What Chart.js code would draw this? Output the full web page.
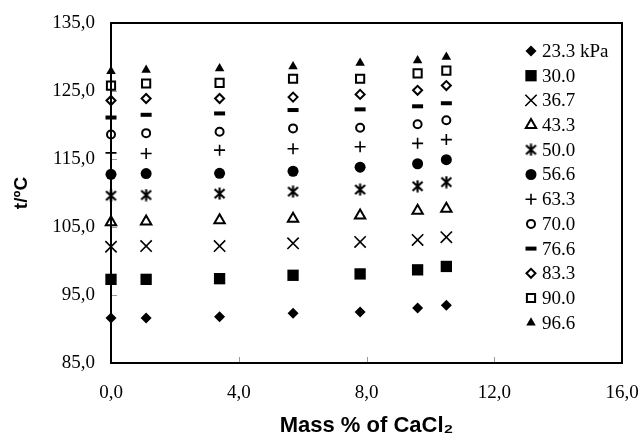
<!DOCTYPE html>
<html>
<head>
<meta charset="utf-8">
<title>Boiling temperature vs mass % CaCl2</title>
<script src="https://cdn.jsdelivr.net/npm/chart.js@4.4.1/dist/chart.umd.min.js"></script>
<style>
  html, body { margin: 0; padding: 0; background: #fff; }
  #wrap { position: relative; width: 641px; height: 439px; }
  #plot-frame { position: absolute; box-sizing: border-box; border: 2px solid #000; pointer-events: none; }
</style>
</head>
<body>
<div id="wrap">
  <canvas id="bp-chart" width="641" height="439"></canvas>
  <div id="plot-frame"></div>
</div>
<script>
// mass % of CaCl2 (same for every pressure series)
const massPct = [0, 1.1, 3.4, 5.7, 7.8, 9.6, 10.5];

// legend labels, one per pressure
const pressureLabels = ['23.3 kPa', '30.0', '36.7', '43.3', '50.0', '56.6', '63.3', '70.0', '76.6', '83.3', '90.0', '96.6'];

// boiling temperatures t/ºC
const t233 = [91.6, 91.6, 91.8, 92.3, 92.5, 93.1, 93.5];
const t300 = [97.3, 97.3, 97.4, 97.9, 98.1, 98.7, 99.2];
const t367 = [102.1, 102.2, 102.2, 102.6, 102.8, 103.1, 103.5];
const t433 = [105.7, 105.8, 106.0, 106.2, 106.7, 107.4, 107.7];
const t500 = [109.6, 109.7, 109.9, 110.2, 110.5, 111.0, 111.6];
const t566 = [112.75, 112.85, 112.9, 113.2, 113.8, 114.3, 114.9];
const t633 = [115.9, 115.8, 116.3, 116.5, 116.8, 117.3, 117.85];
const t700 = [118.6, 118.8, 119.0, 119.5, 119.6, 120.1, 120.7];
const t766 = [121.1, 121.5, 121.7, 122.2, 122.3, 122.75, 123.2];
const t833 = [123.6, 123.9, 123.9, 124.1, 124.5, 125.1, 125.8];
const t900 = [125.8, 126.1, 126.2, 126.8, 126.8, 127.6, 128.0];
const t966 = [127.9, 128.1, 128.3, 128.6, 129.1, 129.5, 130.0];

const seriesValues = [t233, t300, t367, t433, t500, t566, t633, t700, t766, t833, t900, t966];

// the 50.0 kPa marker is a 6 spoke asterisk, chart.js has no such style so make one
function makeAsterisk() {
    const c = document.createElement('canvas');
    c.width = 13; c.height = 13;
    const g = c.getContext('2d');
    g.strokeStyle = '#000';
    g.lineWidth = 2.2;
    g.beginPath();
    g.moveTo(6.5, 0.5); g.lineTo(6.5, 12.5);
    g.moveTo(1.5, 2); g.lineTo(11.5, 11);
    g.moveTo(11.5, 2); g.lineTo(1.5, 11);
    g.stroke();
    return c;
}

// marker look for every series (same order as pressureLabels)
const markerStyles = [
    { pointStyle: 'rectRot', radius: 5.5, fill: '#000', borderWidth: 0 },
    { pointStyle: 'rect', radius: 8, fill: '#000', borderWidth: 0 },
    { pointStyle: 'crossRot', radius: 8, fill: '#000', borderWidth: 1.6 },
    { pointStyle: 'triangle', radius: 6, fill: '#fff', borderWidth: 2 },
    { pointStyle: makeAsterisk(), radius: 6, fill: '#000', borderWidth: 0 },
    { pointStyle: 'circle', radius: 5.5, fill: '#000', borderWidth: 0 },
    { pointStyle: 'cross', radius: 5.5, fill: '#000', borderWidth: 1.6 },
    { pointStyle: 'circle', radius: 4, fill: '#fff', borderWidth: 2 },
    { pointStyle: 'line', radius: 5.5, fill: '#000', borderWidth: 4 },
    { pointStyle: 'rectRot', radius: 4.5, fill: '#fff', borderWidth: 2 },
    { pointStyle: 'rect', radius: 5.8, fill: '#fff', borderWidth: 2 },
    { pointStyle: 'triangle', radius: 5.5, fill: '#000', borderWidth: 0 }
];

const datasets = pressureLabels.map((lab, i) => ({
    label: lab,
    data: massPct.map((x, j) => ({ x: x, y: seriesValues[i][j] })),
    showLine: false,
    pointStyle: markerStyles[i].pointStyle,
    pointRadius: markerStyles[i].radius,
    pointHoverRadius: markerStyles[i].radius,
    pointBackgroundColor: markerStyles[i].fill,
    pointBorderColor: '#000',
    pointBorderWidth: markerStyles[i].borderWidth,
    clip: false
}));

const comma = v => v.toFixed(1).replace('.', ',');

// little grey inner ticks + the legend inside the plot on the right
const overlayPlugin = {
    id: 'overlay',
    afterDraw(chart) {
        const ctx = chart.ctx;
        const xs = chart.scales.x, ys = chart.scales.y;
        const left = xs.getPixelForValue(xs.min);
        const bottom = ys.getPixelForValue(ys.min);
        ctx.save();
        ctx.fillStyle = '#999';
        xs.ticks.forEach(t => {
            if (t.value <= xs.min || t.value >= xs.max) return;
            const px = Math.round(xs.getPixelForValue(t.value));
            ctx.fillRect(px, bottom - 6, 1, 6);
        });
        ys.ticks.forEach(t => {
            if (t.value <= ys.min || t.value >= ys.max) return;
            const py = Math.round(ys.getPixelForValue(t.value));
            ctx.fillRect(left, py, 6, 1);
        });

        // legend
        const x0 = 531, y0 = 51, step = 24.7;
        ctx.font = '19px "Liberation Serif", "Times New Roman", serif';
        ctx.textBaseline = 'middle';
        ctx.textAlign = 'left';
        chart.data.datasets.forEach((ds, i) => {
            const y = y0 + i * step;
            ctx.fillStyle = ds.pointBackgroundColor;
            ctx.strokeStyle = '#000';
            ctx.lineWidth = ds.pointBorderWidth || 1;
            Chart.helpers.drawPoint(ctx, {
                pointStyle: ds.pointStyle,
                radius: ds.pointRadius,
                borderWidth: ds.pointBorderWidth,
                rotation: 0
            }, x0, y);
            ctx.fillStyle = '#000';
            ctx.fillText(ds.label, x0 + 11, y + 1);
        });
        ctx.restore();
    }
};

const tickFont = { family: '"Liberation Serif", "Times New Roman", serif', size: 19 };

const config = {
    type: 'scatter',
    data: { datasets: datasets },
    options: {
        responsive: false,
        animation: false,
        layout: { padding: { left: 0, top: 23, right: 19, bottom: 0 } },
        plugins: {
            legend: { display: false },
            tooltip: { enabled: false }
        },
        scales: {
            x: {
                type: 'linear',
                min: 0, max: 16,
                grid: { display: false, drawTicks: false },
                border: { display: true, color: '#000', width: 2 },
                ticks: { stepSize: 4, padding: 19, color: '#000', font: tickFont, callback: comma, maxRotation: 0 },
                title: {
                    display: true,
                    text: 'Mass % of CaCl₂',
                    color: '#000',
                    font: { family: '"Liberation Sans", Arial, sans-serif', size: 22, weight: 'bold' },
                    padding: { top: 0, bottom: 0 }
                },
                // no extra room for the half labels at the ends, layout padding handles it
                afterFit(s) { s.height = 76; s.paddingLeft = 0; s.paddingRight = 0; }
            },
            y: {
                type: 'linear',
                min: 85, max: 135,
                grid: { display: false, drawTicks: false },
                border: { display: true, color: '#000', width: 2 },
                ticks: { stepSize: 10, padding: 16, color: '#000', font: tickFont, callback: comma },
                title: {
                    display: true,
                    text: 't/ºC',
                    color: '#000',
                    font: { family: '"Liberation Sans", Arial, sans-serif', size: 19, weight: 'bold' },
                    padding: { top: 10, bottom: 0 }
                },
                afterFit(s) { s.width = 111; s.paddingTop = 0; s.paddingBottom = 0; }
            }
        }
    },
    plugins: [overlayPlugin]
};

const bpChart = new Chart(document.getElementById('bp-chart'), config);

// frame round the plot as a plain css box, placed from the chart's own scales
// (lines drawn on the canvas at the plot edge kept going missing)
const xs = bpChart.scales.x, ys = bpChart.scales.y;
let fl = xs.getPixelForValue(xs.min), fr = xs.getPixelForValue(xs.max);
let ft = ys.getPixelForValue(ys.max), fb = ys.getPixelForValue(ys.min);
if (![fl, fr, ft, fb].every(Number.isFinite)) { fl = 111; fr = 622; ft = 23; fb = 363; }
const frame = document.getElementById('plot-frame');
frame.style.left = (fl - 1) + 'px';
frame.style.top = (ft - 1) + 'px';
frame.style.width = (fr - fl + 2) + 'px';
frame.style.height = (fb - ft + 2) + 'px';
</script>
</body>
</html>
